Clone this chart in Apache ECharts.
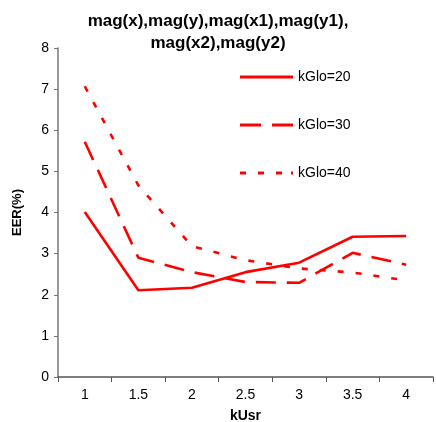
<!DOCTYPE html>
<html><head><meta charset="utf-8">
<script src="https://cdn.jsdelivr.net/npm/echarts@6/dist/echarts.min.js"></script>
<style>html,body{margin:0;padding:0;background:#fff}#c{width:436px;height:422px}</style>
</head><body><div id="c"></div>
<script>
const categories = ['1','1.5','2','2.5','3','3.5','4'];
const kGlo20 = [4.01, 2.11, 2.17, 2.55, 2.78, 3.41, 3.43];
const kGlo30 = [5.72, 2.90, 2.55, 2.31, 2.29, 3.02, 2.73];
const kGlo40 = [7.07, 4.66, 3.18, 2.84, 2.64, 2.54, 2.35];
const seriesNames = ['kGlo=20','kGlo=30','kGlo=40'];
const yTicks = {min:0, max:8, interval:1};

const chart = echarts.init(document.getElementById('c'), null, {renderer:'canvas'});
const font = 'Liberation Sans, Arial, sans-serif';
const dashes = ['solid', [20,11], [6,12]];
// legend key glyphs (solid, long dash, short dash)
const legendIcons = [
  'path://M0 0L53 0L53 3L0 3Z',
  'path://M0 0L21 0L21 3L0 3ZM32 0L53 0L53 3L32 3Z',
  'path://M0 0L6 0L6 3L0 3ZM18 0L24 0L24 3L18 3ZM36 0L42 0L42 3L36 3ZM51 0L53 0L53 3L51 3Z'
];
function mk(name, data, type){
  return {name, type:'line', data, symbol:'none', showSymbol:false, animation:false,
    lineStyle:{color:'#ff0000', width:2.6, type}, itemStyle:{color:'#ff0000'}};
}
chart.setOption({
  animation:false,
  title:{text:'mag(x),mag(y),mag(x1),mag(y1),\nmag(x2),mag(y2)', left:'center', top:5,
    textStyle:{fontFamily:font, fontSize:17, fontWeight:'bold', color:'#000', lineHeight:22}},
  legend:{orient:'vertical', left:235, top:65, itemWidth:53, itemHeight:3, itemGap:34,
    symbolKeepAspect:false,
    textStyle:{fontFamily:font, fontSize:14, color:'#000', lineHeight:14},
    data:seriesNames.map((n,i)=>({name:n, icon:legendIcons[i],
      itemStyle:{color:'#ff0000', opacity:1, borderWidth:0, borderColor:'transparent'},
      lineStyle:{width:0, opacity:0}}))},
  grid:{left:58, right:3, top:48, bottom:45, outerBoundsMode:'none', containLabel:false},
  xAxis:{type:'category', data:categories, boundaryGap:true,
    name:'kUsr', nameLocation:'middle', nameGap:32,
    nameTextStyle:{fontFamily:font, fontSize:14, fontWeight:'bold', color:'#000'},
    axisLine:{lineStyle:{color:'#555', width:1.5}},
    axisTick:{show:true, length:5, lineStyle:{color:'#555'}},
    axisLabel:{fontFamily:font, fontSize:14, color:'#000', margin:11},
    splitLine:{show:false}},
  yAxis:{type:'value', min:yTicks.min, max:yTicks.max, interval:yTicks.interval,
    name:'EER(%)', nameLocation:'middle', nameGap:34, nameRotate:90,
    nameTextStyle:{fontFamily:font, fontSize:13, fontWeight:'bold', color:'#000'},
    axisLine:{show:true, lineStyle:{color:'#777', width:1.5}},
    axisTick:{show:true, length:4, lineStyle:{color:'#777'}},
    axisLabel:{fontFamily:font, fontSize:14, color:'#000', margin:9},
    splitLine:{show:false}},
  series:[
    mk(seriesNames[0], kGlo20, dashes[0]),
    mk(seriesNames[1], kGlo30, dashes[1]),
    mk(seriesNames[2], kGlo40, dashes[2])
  ]
});
</script></body></html>
